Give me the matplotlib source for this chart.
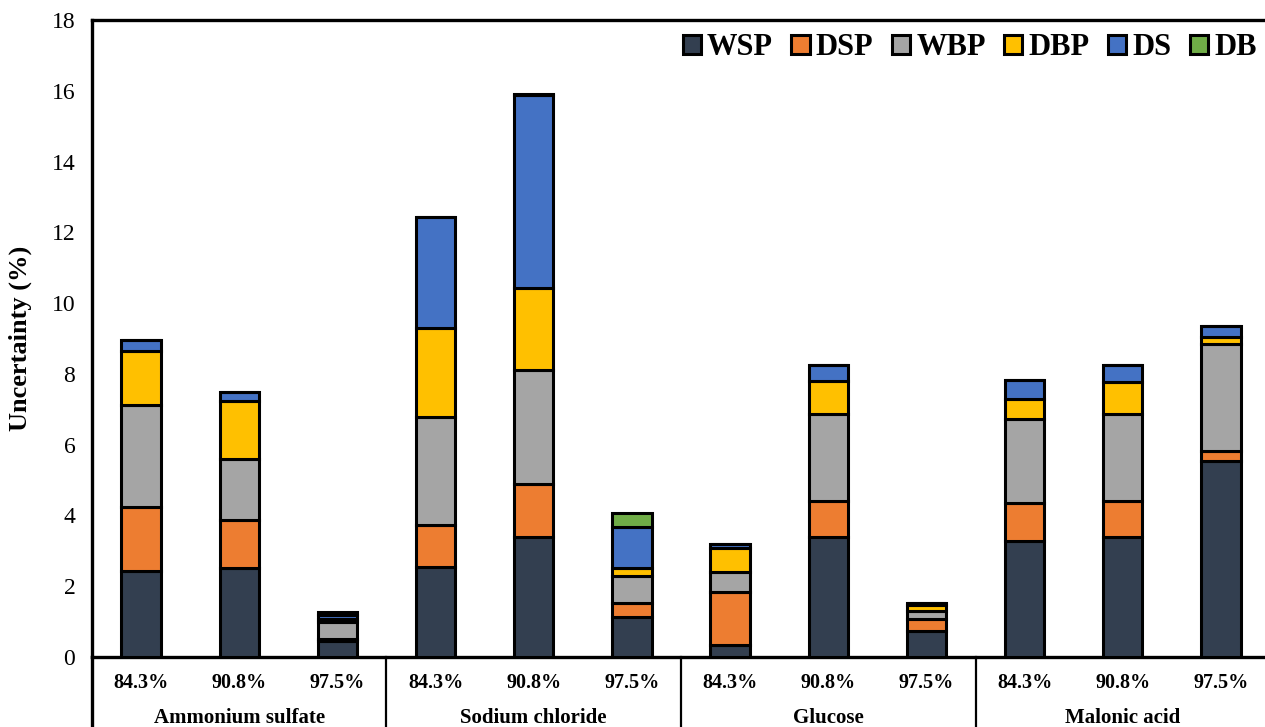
import numpy as np
import matplotlib
matplotlib.use("Agg")
import matplotlib.pyplot as plt
import matplotlib.patches as mpatches

plt.rcParams["font.family"] = ["Liberation Serif", "DejaVu Serif"]

# humidity levels within each solute group
humidity = ["84.3%", "90.8%", "97.5%"]
solutes  = ["Ammonium sulfate", "Sodium chloride", "Glucose", "Malonic acid"]

components = ["WSP", "DSP", "WBP", "DBP", "DS", "DB"]
WSP = [2.43, 2.52, 0.45, 2.55, 3.40, 1.14, 0.33, 3.40, 0.74, 3.28, 3.40, 5.53]
DSP = [1.81, 1.35, 0.06, 1.18, 1.50, 0.39, 1.51, 1.02, 0.33, 1.07, 1.01, 0.30]
WBP = [2.88, 1.73, 0.47, 3.04, 3.22, 0.76, 0.57, 2.45, 0.24, 2.37, 2.45, 3.02]
DBP = [1.52, 1.64, 0.10, 2.53, 2.32, 0.23, 0.68, 0.94, 0.15, 0.57, 0.92, 0.20]
DS  = [0.31, 0.24, 0.12, 3.13, 5.45, 1.16, 0.10, 0.45, 0.08, 0.53, 0.46, 0.30]
DB  = [0.00, 0.00, 0.08, 0.00, 0.03, 0.40, 0.00, 0.00, 0.00, 0.00, 0.00, 0.00]

COLORS = {
    "WSP": "#333f50",
    "DSP": "#ed7d31",
    "WBP": "#a5a5a5",
    "DBP": "#ffc000",
    "DS":  "#4472c4",
    "DB":  "#70ad47",
}

series = dict(zip(components, [WSP, DSP, WBP, DBP, DS, DB]))
n_bars = len(solutes) * len(humidity)
x = np.arange(n_bars)

fig = plt.figure(figsize=(12.65, 7.27), dpi=100)
ax = fig.add_axes([92 / 1265, 70 / 727, 1178 / 1265, 637 / 727])

bottom = np.zeros(n_bars)
for name in components:
    vals = np.array(series[name])
    ax.bar(x, vals, width=0.40, bottom=bottom, color=COLORS[name],
           edgecolor="black", linewidth=2.2, label=name, zorder=3)
    bottom += vals

ax.set_xlim(-0.5, n_bars - 0.5)
ax.set_ylim(0, 18)
ax.set_yticks(np.arange(0, 19, 2))
ax.set_yticklabels([str(v) for v in range(0, 19, 2)], fontsize=17)
ax.tick_params(axis="y", length=0, pad=12)
ax.set_xticks([])
ax.set_ylabel("Uncertainty (%)", fontsize=19, fontweight="bold", labelpad=14)

for side in ["left", "bottom", "top"]:
    ax.spines[side].set_linewidth(2.4)
ax.spines["right"].set_visible(False)

# category labels under the axis, with group separators
trans = ax.get_xaxis_transform()
for i in range(n_bars):
    ax.text(x[i], -0.041, humidity[i % len(humidity)], transform=trans,
            ha="center", va="center", fontsize=14.5, fontweight="bold")
for g, name in enumerate(solutes):
    center = g * len(humidity) + 1
    ax.text(center, -0.096, name, transform=trans,
            ha="center", va="center", fontsize=15, fontweight="bold")
for g in range(len(solutes)):
    xs = g * len(humidity) - 0.5
    ax.plot([xs, xs], [0, -0.12], transform=trans, color="black",
            linewidth=1.6 if g else 2.4, clip_on=False)

handles = [mpatches.Patch(facecolor=COLORS[c], edgecolor="black",
                          linewidth=2.2, label=c) for c in components]
ax.legend(handles=handles, loc="upper right", bbox_to_anchor=(1.012, 1.022),
          ncol=6, frameon=False, prop={"size": 22, "weight": "bold"},
          handlelength=0.6, handleheight=0.6, handletextpad=0.2,
          columnspacing=0.6)

fig.savefig("out.png", dpi=100)
